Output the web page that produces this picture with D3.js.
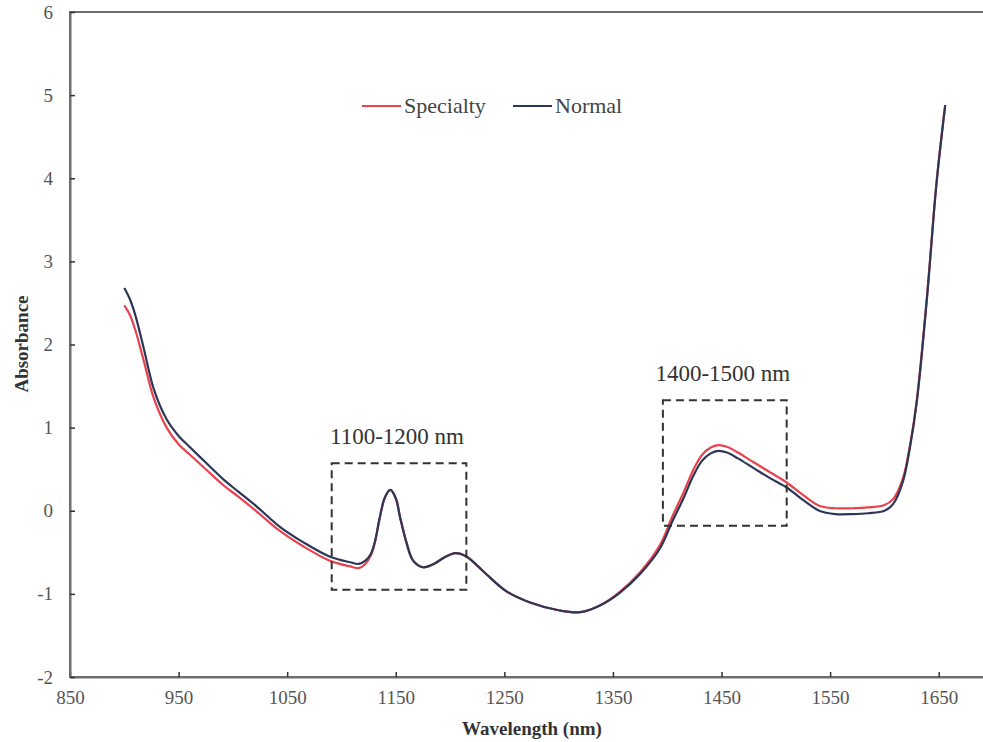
<!DOCTYPE html>
<html>
<head>
<meta charset="utf-8">
<script src="https://cdn.jsdelivr.net/npm/d3@7"></script>
<style>
  body { margin: 0; background: #fff; }
</style>
</head>
<body>
<svg width="983" height="742"></svg>
<script>
// wavelength samples (nm) shared by both spectra
const wavelengths = [900, 905, 910, 918, 927, 939, 950, 960, 975, 991, 1005, 1022, 1043, 1065, 1089, 1108, 1116, 1122, 1127, 1131, 1135, 1140, 1145, 1150, 1154, 1160, 1166, 1175, 1185, 1195, 1205, 1215, 1225, 1234, 1252, 1273, 1301, 1320, 1338, 1356, 1375, 1393, 1405, 1415, 1424, 1432, 1440, 1447, 1455, 1465, 1480, 1495, 1510, 1525, 1540, 1555, 1570, 1585, 1600, 1608, 1617, 1624, 1630, 1639, 1648, 1656];

const specialty = [2.47, 2.36, 2.18, 1.8, 1.36, 1.0, 0.8, 0.68, 0.5, 0.31, 0.17, -0.01, -0.24, -0.43, -0.6, -0.67, -0.69, -0.64, -0.54, -0.37, -0.1, 0.16, 0.25, 0.15, -0.08, -0.39, -0.6, -0.68, -0.64, -0.56, -0.51, -0.55, -0.66, -0.77, -0.97, -1.1, -1.2, -1.22, -1.14, -0.98, -0.74, -0.42, -0.06, 0.22, 0.49, 0.67, 0.76, 0.79, 0.77, 0.7, 0.58, 0.46, 0.34, 0.19, 0.06, 0.03, 0.03, 0.04, 0.07, 0.14, 0.39, 0.82, 1.35, 2.55, 3.95, 4.88];

const normal = [2.68, 2.55, 2.36, 1.95, 1.47, 1.1, 0.9, 0.77, 0.58, 0.38, 0.23, 0.05, -0.19, -0.38, -0.55, -0.62, -0.64, -0.6, -0.52, -0.36, -0.1, 0.16, 0.25, 0.15, -0.08, -0.39, -0.6, -0.68, -0.64, -0.56, -0.51, -0.55, -0.66, -0.77, -0.97, -1.1, -1.2, -1.22, -1.14, -0.99, -0.76, -0.46, -0.12, 0.15, 0.42, 0.6, 0.69, 0.72, 0.7, 0.63, 0.51, 0.39, 0.28, 0.13, 0.0, -0.04, -0.04, -0.03, 0.0, 0.08, 0.35, 0.8, 1.33, 2.53, 3.94, 4.88];

const xTicks = [850, 950, 1050, 1150, 1250, 1350, 1450, 1550, 1650];
const yTicks = [-2, -1, 0, 1, 2, 3, 4, 5, 6];

// highlighted regions [x0, x1, y0, y1] in data units
const regionLabels = ['1100-1200 nm', '1400-1500 nm'];
const regionBoxes = [[1091, 1215, -0.95, 0.57], [1396, 1510, -0.18, 1.33]];

const seriesNames = ['Specialty', 'Normal'];
const seriesColors = ['#e8424f', '#2c3656'];

const serif = "'Liberation Serif', 'Times New Roman', Times, serif";

const svg = d3.select('svg');

const x = d3.scaleLinear().domain([850, 1700]).range([70, 993]);
const y = d3.scaleLinear().domain([-2, 6]).range([677, 12]);

// frame
svg.append('rect')
	.attr('x', x(850)).attr('y', y(6))
	.attr('width', x(1700) - x(850)).attr('height', y(-2) - y(6))
	.attr('fill', 'none').attr('stroke', '#6e6e6e').attr('stroke-width', 2);

const xAxis = svg.append('g')
	.attr('transform', `translate(0,${y(-2)})`)
	.call(d3.axisBottom(x).tickValues(xTicks).tickFormat(d => String(d))
		.tickSizeInner(-5).tickSizeOuter(0).tickPadding(14));

const yAxis = svg.append('g')
	.attr('transform', `translate(${x(850)},0)`)
	.call(d3.axisLeft(y).tickValues(yTicks).tickFormat(d => String(d))
		.tickSizeInner(-5).tickSizeOuter(0).tickPadding(17));

[xAxis, yAxis].forEach(g => {
	g.attr('font-family', serif).attr('font-size', 19);
	g.select('.domain').attr('stroke', '#6e6e6e').attr('stroke-width', 2);
	g.selectAll('.tick line').attr('stroke', '#333').attr('stroke-width', 1.5);
	g.selectAll('.tick text').attr('fill', '#555');
});

// axis titles
svg.append('text')
	.attr('x', 532).attr('y', 735)
	.attr('text-anchor', 'middle')
	.attr('font-family', serif)
	.attr('font-weight', 'bold').attr('font-size', 19).attr('fill', '#333')
	.text('Wavelength (nm)');

svg.append('text')
	.attr('transform', 'translate(28,344) rotate(-90)')
	.attr('text-anchor', 'middle')
	.attr('font-family', serif)
	.attr('font-weight', 'bold').attr('font-size', 19).attr('fill', '#333')
	.text('Absorbance');

// spectra
const line = d3.line()
	.x(d => x(d[0]))
	.y(d => y(d[1]))
	.curve(d3.curveCatmullRom.alpha(0.5));

[specialty, normal].forEach((vals, i) => {
	svg.append('path')
		.datum(wavelengths.map((w, j) => [w, vals[j]]))
		.attr('d', line)
		.attr('fill', 'none')
		.attr('stroke', seriesColors[i])
		.attr('stroke-width', 2.2)
		.attr('stroke-linejoin', 'round');
});

// dashed region boxes
regionBoxes.forEach((b, i) => {
	svg.append('rect')
		.attr('x', x(b[0])).attr('y', y(b[3]))
		.attr('width', x(b[1]) - x(b[0])).attr('height', y(b[2]) - y(b[3]))
		.attr('fill', 'none').attr('stroke', '#333')
		.attr('stroke-width', 2).attr('stroke-dasharray', '8,5');
	svg.append('text')
		.attr('x', (x(b[0]) + x(b[1])) / 2 - 2)
		.attr('y', y(b[3]) - 19)
		.attr('text-anchor', 'middle')
		.attr('font-family', serif)
		.attr('font-size', 23).attr('fill', '#333')
		.text(regionLabels[i]);
});

// legend
const legendX = [362, 513];
seriesNames.forEach((name, i) => {
	svg.append('line')
		.attr('x1', legendX[i]).attr('x2', legendX[i] + 39)
		.attr('y1', 106).attr('y2', 106)
		.attr('stroke', seriesColors[i]).attr('stroke-width', 2);
	svg.append('text')
		.attr('x', legendX[i] + 42).attr('y', 113)
		.attr('font-family', serif)
		.attr('font-size', 22).attr('fill', '#444')
		.text(name);
});
</script>
</body>
</html>
